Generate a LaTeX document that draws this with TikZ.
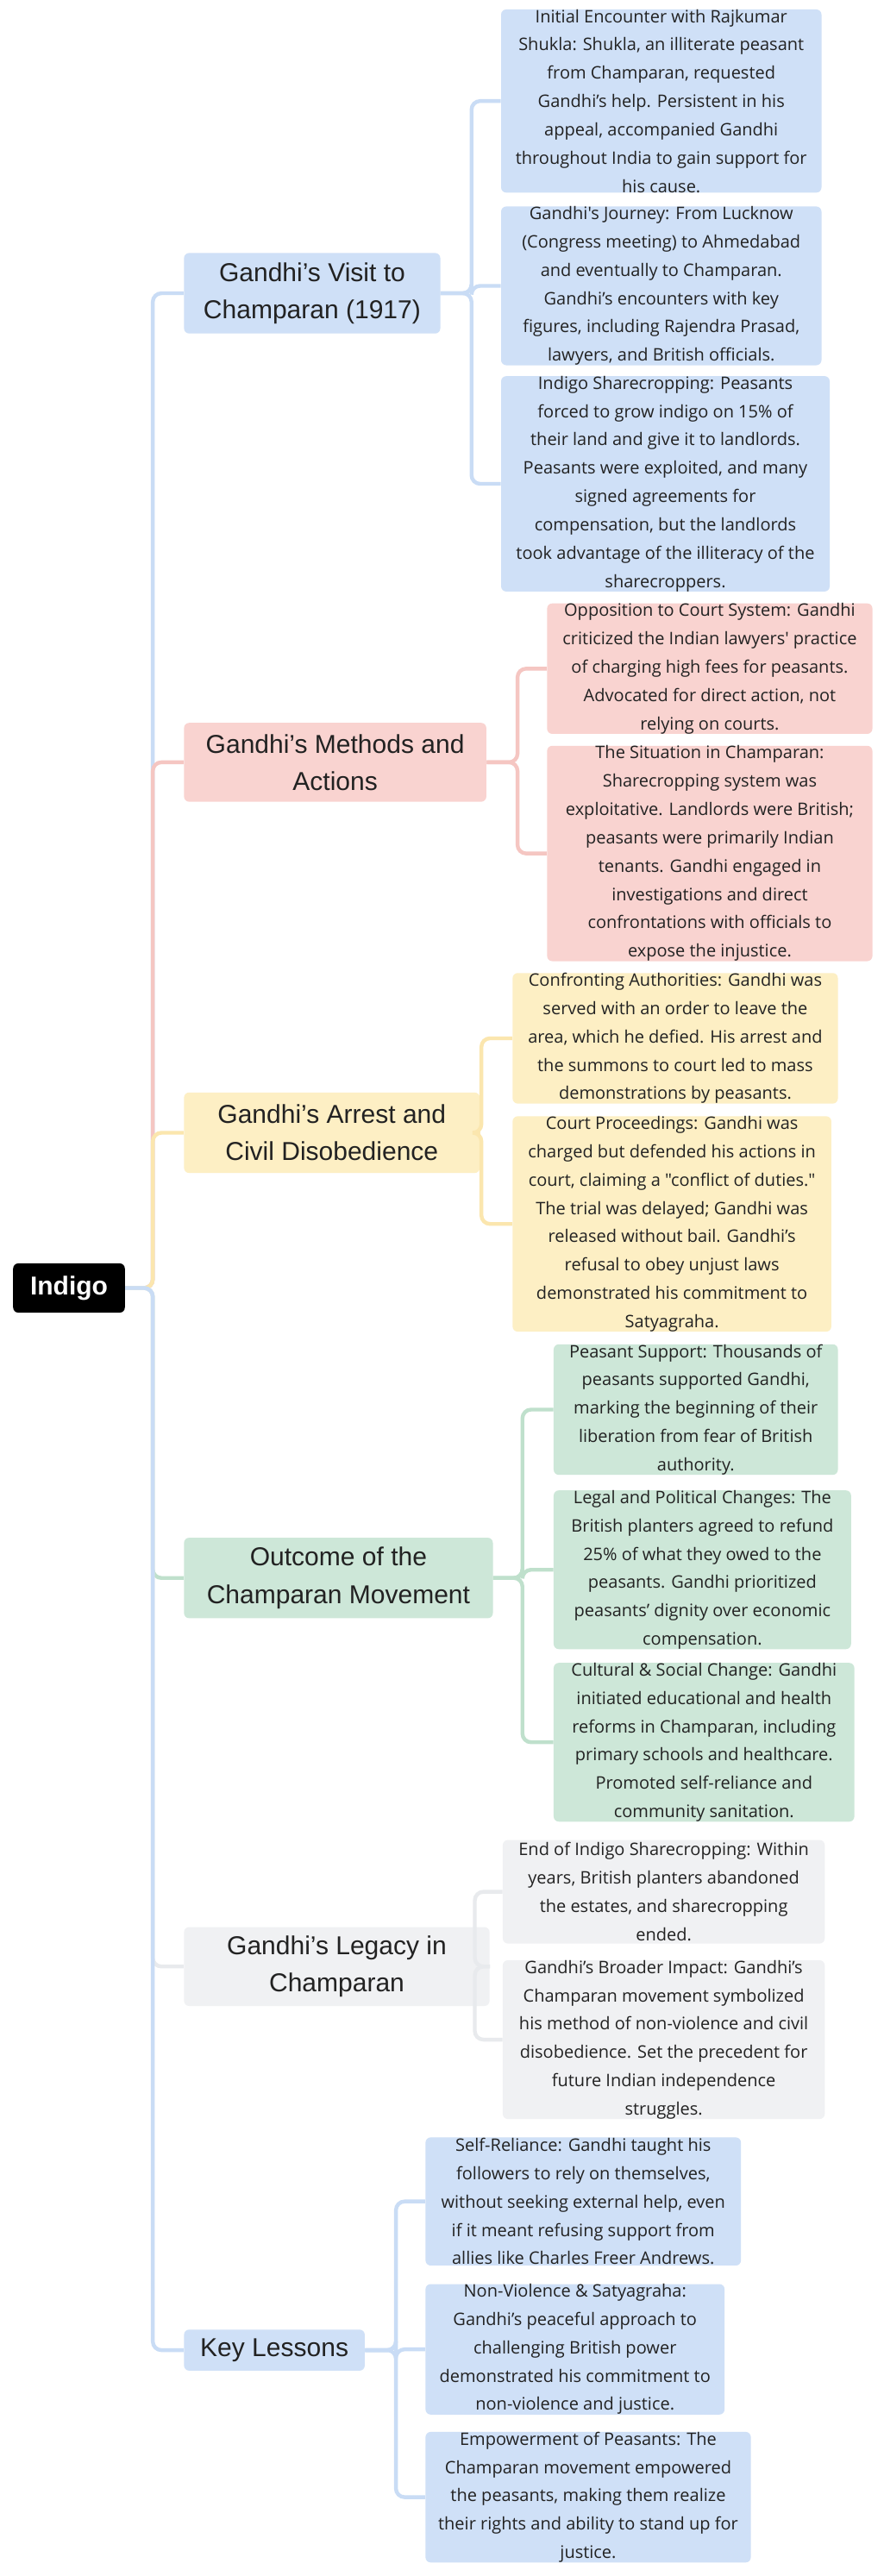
\documentclass[tikz,border=0pt]{standalone}
\usepackage{fontspec}
\setmainfont{Liberation Sans}
\newfontfamily\smallf{Open Sans}
\definecolor{cb}{HTML}{CFE0F7}
\definecolor{cr}{HTML}{F9D3D0}
\definecolor{cy}{HTML}{FDEFC4}
\definecolor{cg}{HTML}{CDE7D8}
\definecolor{cw}{HTML}{F0F1F3}
\definecolor{lb}{HTML}{C9DCF5}
\definecolor{lr}{HTML}{F5C6C2}
\definecolor{ly}{HTML}{FBE6AE}
\definecolor{lg}{HTML}{BFE0CC}
\definecolor{lw}{HTML}{E8EAED}
\definecolor{txt}{HTML}{222222}
\tikzset{
 x=0.952pt,y=-0.952pt,
 box/.style 2 args={rounded corners=3pt,inner sep=0pt,align=center,text=txt,
   minimum width=#1*0.952pt,minimum height=#2*0.952pt},
 lone/.style={font=\fontsize{15}{21.5}\selectfont},
 ltwo/.style={font=\smallf\fontsize{10}{16.4}\selectfont},
 conn/.style={line width=2.2pt,rounded corners=5pt},
}
\begin{document}
\begin{tikzpicture}
\useasboundingbox (0,0) rectangle (538,1568);
\fill[white] (0,0) rectangle (538,1568);
\node[box={68}{30},fill=black,text=white,font=\bfseries\fontsize{15}{18}\selectfont] (root) at (42,784) {Indigo};
% level 1
\node[box={156}{49},fill=cb,lone] (a) at (190,178.5) {Gandhi's Visit to\\Champaran (1917)};
\node[box={184}{48},fill=cr,lone] (b) at (204,464) {Gandhi’s Methods and\\Actions};
\node[box={180}{49},fill=cy,lone] (c) at (202,689.5) {Gandhi’s Arrest and\\Civil Disobedience};
\node[box={188}{49},fill=cg,lone] (d) at (206,960.5) {Outcome of the\\Champaran Movement};
\node[box={186}{48},fill=cw,lone] (e) at (205,1197) {Gandhi's Legacy in\\Champaran};
\node[box={110}{25},fill=cb,lone] (f) at (167,1430.5) {Key Lessons};
% level 2
\node[box={195}{109},fill=cb,ltwo] (a1) at (402.5,61.5) {Initial Encounter with Rajkumar\\Shukla: Shukla, an illiterate peasant\\from Champaran, requested\\Gandhi’s help. Persistent in his\\appeal, accompanied Gandhi\\throughout India to gain support for\\his cause.};
\node[box={195}{94},fill=cb,ltwo] (a2) at (402.5,174) {Gandhi's Journey: From Lucknow\\(Congress meeting) to Ahmedabad\\and eventually to Champaran.\\Gandhi’s encounters with key\\figures, including Rajendra Prasad,\\lawyers, and British officials.};
\node[box={200}{123},fill=cb,ltwo] (a3) at (405,294.5) {Indigo Sharecropping: Peasants\\forced to grow indigo on 15\% of\\their land and give it to landlords.\\Peasants were exploited, and many\\signed agreements for\\compensation, but the landlords\\took advantage of the illiteracy of the\\sharecroppers.};
\node[box={198}{78},fill=cr,ltwo] (b1) at (432,407) {Opposition to Court System: Gandhi\\criticized the Indian lawyers' practice\\of charging high fees for peasants.\\Advocated for direct action, not\\relying on courts.};
\node[box={198}{123},fill=cr,ltwo] (b2) at (432,519.5) {The Situation in Champaran:\\Sharecropping system was\\exploitative. Landlords were British;\\peasants were primarily Indian\\tenants. Gandhi engaged in\\investigations and direct\\confrontations with officials to\\expose the injustice.};
\node[box={198}{78},fill=cy,ltwo] (c1) at (411,632) {Confronting Authorities: Gandhi was\\served with an order to leave the\\area, which he defied. His arrest and\\the summons to court led to mass\\demonstrations by peasants.};
\node[box={194}{122},fill=cy,ltwo] (c2) at (409,745) {Court Proceedings: Gandhi was\\charged but defended his actions in\\court, claiming a "conflict of duties."\\The trial was delayed; Gandhi was\\released without bail. Gandhi’s\\refusal to obey unjust laws\\demonstrated his commitment to\\Satyagraha.};
\node[box={173}{78},fill=cg,ltwo] (d1) at (423.5,858) {Peasant Support: Thousands of\\peasants supported Gandhi,\\marking the beginning of their\\liberation from fear of British\\authority.};
\node[box={181}{93},fill=cg,ltwo] (d2) at (427.5,955.5) {Legal and Political Changes: The\\British planters agreed to refund\\25\% of what they owed to the\\peasants. Gandhi prioritized\\peasants’ dignity over economic\\compensation.};
\node[box={183}{93},fill=cg,ltwo] (d3) at (428.5,1060.5) {Cultural \& Social Change: Gandhi\\initiated educational and health\\reforms in Champaran, including\\primary schools and healthcare.\\Promoted self-reliance and\\community sanitation.};
\node[box={196}{63},fill=cw,ltwo] (e1) at (404,1151.5) {End of Indigo Sharecropping: Within\\years, British planters abandoned\\the estates, and sharecropping\\ended.};
\node[box={196}{93},fill=cw,ltwo] (e2) at (404,1241.5) {Gandhi’s Broader Impact: Gandhi’s\\Champaran movement symbolized\\his method of non-violence and civil\\disobedience. Set the precedent for\\future Indian independence\\struggles.};
\node[box={192}{78},fill=cb,ltwo] (f1) at (355,1340) {Self-Reliance: Gandhi taught his\\followers to rely on themselves,\\without seeking external help, even\\if it meant refusing support from\\allies like Charles Freer Andrews.};
\node[box={182}{78},fill=cb,ltwo] (f2) at (350,1430) {Non-Violence \& Satyagraha:\\Gandhi’s peaceful approach to\\challenging British power\\demonstrated his commitment to\\non-violence and justice.};
\node[box={198}{78},fill=cb,ltwo] (f3) at (358,1520) {Empowerment of Peasants: The\\Champaran movement empowered\\the peasants, making them realize\\their rights and ability to stand up for\\justice.};
% connectors root -> level1
\begin{scope}[on background layer/.try]
\foreach \n/\c in {a/lb,b/lr,c/ly,d/lg,e/lw,f/lb}
  \draw[conn,draw=\c] (root.east) -- (93,784) |- (\n.west);
\foreach \p/\t/\c/\k in {a/287/lb/{a1,a2,a3},b/315/lr/{b1,b2},c/293/ly/{c1,c2},d/318/lg/{d1,d2,d3},e/289/lw/{e1,e2},f/241/lb/{f1,f2,f3}}
  \foreach \ch in \k
    \draw[conn,draw=\c] (\p.east) -- (\t,0|-\p.east) |- (\ch.west);
\end{scope}
\end{tikzpicture}
\end{document}
